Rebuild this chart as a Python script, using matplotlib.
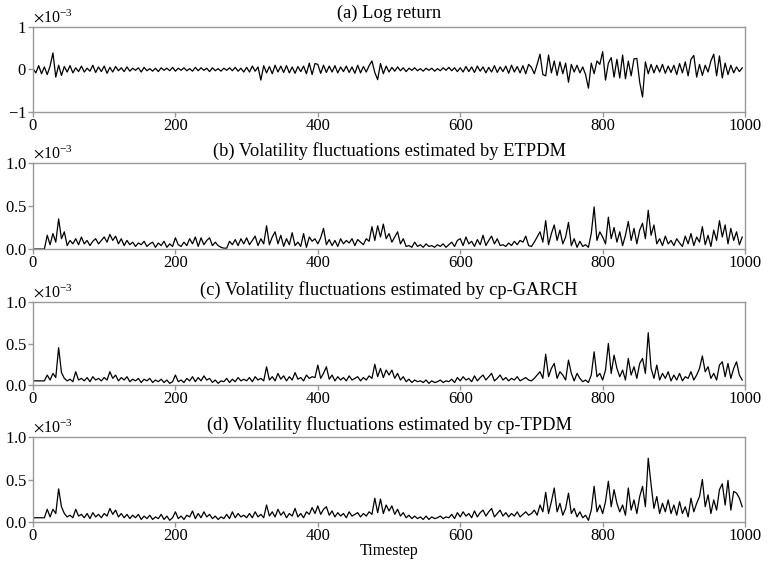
import numpy as np
import matplotlib.pyplot as plt
from matplotlib.ticker import ScalarFormatter

plt.rcParams['font.family'] = ['Liberation Serif', 'DejaVu Serif']
plt.rcParams['mathtext.fontset'] = 'stix'

# values, one point every 4 timesteps, in units of 1e-5
step = 4
log_return = [
    2, -8, 9, -10, 6, -12, 8, 39, -18, 10, -14, 7, -6, 9, -8, 4, -5, 8, -6, 3, -4, 10, -7, 6, -5,
    8, -9, 5, -6, 7, -3, 4, -5, 6, -4, 3, -2, 4, -6, 5, -3, 2, -4, 3, -5, 4, -2, 3, -3, 5,
    -4, 3, -2, 4, -3, 2, -4, 5, -3, 4, -2, 3, -5, 4, -3, 2, -4, 3, -2, 4, -3, 5, -4, 3, -6,
    5, -6, 8, -4, 6, -25, 9, -8, 7, -10, 10, -6, 8, -7, 9, -8, 6, -9, 7, -5, 8, -10, 15, -12, 14,
    12, -9, 10, -7, 8, -6, 9, -8, 6, -5, 8, -7, 6, -9, 10, -8, 7, -6, 9, 20, -7, -24, 14, -10, 8,
    -6, 5, -4, 6, -3, 4, -5, 3, -2, 4, -3, 2, -4, 3, -2, 3, -4, 2, -3, 4, -2, 5, -3, 4, -5,
    4, -6, 7, -5, 6, -7, 8, -4, 6, -8, 5, -6, 9, -7, 6, -5, 8, -9, 10, -6, 7, -8, 9, -10, 12,
    5, -10, 12, 36, -12, -15, 34, -8, 20, -14, 18, -10, 15, -30, 12, -6, 10, -8, 6, -12, -44, 15, -10, 20, 12,
    42, -25, 15, 28, -18, 24, -20, 34, -22, 20, -15, 25, 26, -30, -65, 18, -10, 12, -8, 10, -6, 12, -9, 8, -7,
    10, -12, 14, -8, 18, -15, 24, 33, -18, 12, -14, 10, -6, 20, 36, -15, 32, -20, 15, -12, 10, -8, 6, -5, 4,
]
vol_etpdm = [
    0, 0, 0, 0, 0, 16, 5, 18, 8, 35, 12, 20, 4, 10, 6, 12, 5, 14, 6, 10, 4, 9, 12, 6, 10,
    14, 8, 17, 10, 15, 6, 12, 4, 10, 5, 8, 3, 7, 5, 9, 3, 6, 8, 2, 7, 4, 9, 2, 6, 3,
    13, 5, 3, 8, 4, 12, 6, 14, 3, 13, 5, 10, 13, 4, 8, 4, 2, 1, 1, 9, 5, 11, 4, 12, 6,
    13, 5, 10, 15, 4, 12, 6, 27, 5, 14, 20, 6, 16, 3, 12, 5, 19, 4, 8, 3, 18, 2, 14, 9, 12,
    6, 13, 24, 5, 11, 4, 10, 3, 12, 6, 10, 7, 12, 4, 11, 8, 5, 12, 9, 26, 10, 27, 14, 29, 12,
    18, 8, 14, 20, 6, 12, 3, 4, 2, 8, 3, 5, 2, 6, 3, 4, 2, 5, 3, 6, 2, 5, 8, 3, 10,
    12, 4, 14, 6, 9, 3, 11, 5, 16, 4, 10, 15, 6, 12, 4, 5, 3, 7, 4, 9, 5, 10, 8, 15, 4,
    3, 8, 14, 20, 8, 33, 5, 18, 28, 10, 22, 6, 14, 31, 4, 12, 2, 9, 3, 5, 2, 18, 49, 10, 20,
    14, 6, 37, 12, 25, 8, 20, 4, 16, 32, 10, 24, 6, 22, 30, 12, 45, 16, 28, 6, 12, 4, 15, 6, 10,
    4, 12, 7, 3, 15, 6, 18, 4, 14, 8, 26, 5, 16, 3, 22, 10, 33, 14, 28, 6, 24, 10, 20, 5, 14,
]
vol_garch = [
    5, 5, 5, 5, 5, 12, 6, 14, 9, 45, 15, 8, 5, 7, 4, 16, 6, 8, 5, 9, 4, 10, 6, 8, 5,
    9, 6, 16, 8, 12, 5, 9, 6, 10, 4, 7, 5, 8, 3, 7, 5, 8, 3, 6, 4, 7, 3, 6, 2, 4,
    12, 4, 6, 3, 8, 5, 10, 4, 9, 5, 11, 6, 8, 3, 6, 2, 5, 4, 8, 3, 7, 4, 9, 5, 7,
    5, 9, 4, 10, 6, 8, 5, 22, 6, 10, 5, 14, 7, 11, 5, 10, 6, 15, 7, 9, 5, 12, 8, 10, 9,
    24, 8, 14, 22, 7, 12, 5, 10, 6, 9, 5, 11, 6, 8, 10, 5, 9, 6, 11, 8, 25, 10, 20, 9, 18,
    12, 18, 8, 14, 6, 10, 4, 7, 3, 6, 4, 5, 3, 6, 2, 5, 3, 4, 6, 3, 5, 4, 7, 3, 9,
    5, 10, 6, 8, 4, 11, 5, 9, 12, 6, 10, 14, 5, 8, 12, 6, 9, 5, 8, 6, 10, 5, 7, 9, 6,
    5, 8, 12, 16, 8, 37, 10, 20, 26, 8, 16, 12, 6, 30, 14, 5, 14, 8, 4, 6, 3, 12, 40, 10, 14,
    6, 18, 50, 14, 36, 20, 10, 18, 6, 32, 12, 22, 8, 26, 32, 14, 63, 20, 8, 24, 6, 14, 8, 16, 5,
    12, 6, 14, 5, 10, 8, 16, 6, 12, 20, 35, 16, 22, 8, 14, 6, 24, 28, 10, 26, 8, 20, 28, 12, 6,
]
vol_tpdm = [
    5, 5, 5, 5, 5, 15, 6, 15, 10, 39, 18, 10, 6, 8, 5, 15, 7, 9, 5, 10, 4, 11, 6, 9, 5,
    10, 7, 16, 9, 14, 6, 10, 5, 9, 4, 8, 5, 9, 3, 7, 4, 8, 3, 6, 4, 9, 3, 7, 2, 5,
    12, 4, 7, 3, 8, 6, 13, 4, 10, 5, 12, 6, 9, 4, 7, 3, 6, 4, 9, 4, 12, 5, 10, 6, 8,
    5, 10, 5, 12, 6, 9, 5, 20, 7, 12, 6, 15, 8, 12, 5, 10, 7, 16, 6, 10, 5, 12, 9, 17, 10,
    19, 9, 15, 18, 8, 13, 6, 11, 7, 10, 5, 12, 7, 9, 11, 6, 10, 7, 12, 9, 28, 11, 27, 10, 20,
    13, 19, 9, 15, 7, 11, 5, 8, 4, 7, 4, 6, 3, 7, 3, 6, 4, 5, 7, 4, 6, 5, 9, 4, 11,
    6, 12, 7, 10, 5, 13, 6, 11, 14, 7, 12, 16, 6, 10, 14, 7, 11, 6, 10, 7, 12, 6, 9, 12, 8,
    10, 14, 8, 20, 12, 35, 10, 24, 40, 12, 22, 8, 16, 34, 10, 16, 6, 12, 5, 8, 2, 14, 42, 12, 20,
    10, 24, 48, 18, 38, 22, 12, 20, 8, 40, 14, 26, 10, 30, 42, 18, 75, 44, 16, 30, 10, 22, 12, 26, 10,
    20, 8, 24, 10, 18, 6, 28, 12, 22, 30, 50, 18, 32, 10, 26, 14, 38, 45, 20, 49, 14, 36, 34, 28, 18,
]

titles = [
    '(a) Log return',
    '(b) Volatility fluctuations estimated by ETPDM',
    '(c) Volatility fluctuations estimated by cp-GARCH',
    '(d) Volatility fluctuations estimated by cp-TPDM',
]
series = [log_return, vol_etpdm, vol_garch, vol_tpdm]
yticks = [[-1e-3, 0, 1e-3], [0, 0.5e-3, 1e-3], [0, 0.5e-3, 1e-3], [0, 0.5e-3, 1e-3]]
ylims = [(-1e-3, 1e-3), (0, 1e-3), (0, 1e-3), (0, 1e-3)]
xticks = [0, 200, 400, 600, 800, 1000]

timestep = np.arange(len(log_return)) * step

fig = plt.figure(figsize=(7.69, 5.61), dpi=100)
boxes = [(0.8004, 0.1515), (0.5561, 0.1533), (0.3137, 0.148), (0.0695, 0.1515)]

for i, (b, h) in enumerate(boxes):
    ax = fig.add_axes([0.0429, b, 0.926, h])
    ax.plot(timestep, np.array(series[i]) * 1e-5, color='black', lw=0.9)
    ax.set_xlim(0, 1000)
    ax.set_ylim(*ylims[i])
    ax.set_xticks(xticks)
    ax.set_yticks(yticks[i])
    fmt = ScalarFormatter(useMathText=True)
    fmt.set_powerlimits((-3, -3))
    ax.yaxis.set_major_formatter(fmt)
    ax.yaxis.get_offset_text().set_fontsize(11.5)
    ax.set_title(titles[i], fontsize=13.3, pad=5 if i else 6.5)
    for s in ax.spines.values():
        s.set_color('#999999')
        s.set_linewidth(1.0)
    ax.tick_params(axis='both', labelsize=12, color='#999999', length=3.5, width=1.0, pad=1)
    if i == 3:
        ax.set_xlabel('Timestep', fontsize=11.5, labelpad=-1)

fig.savefig('out.png', dpi=100)
